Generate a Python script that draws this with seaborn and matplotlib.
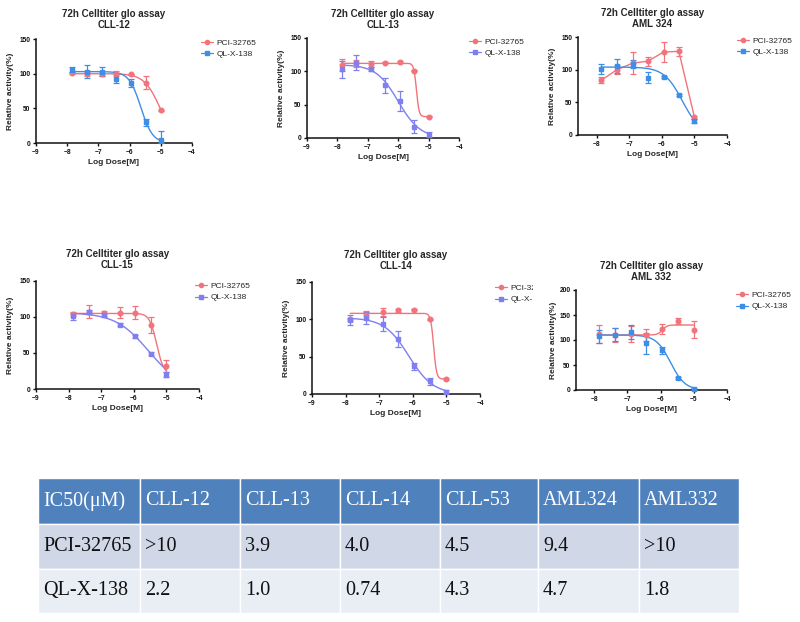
import numpy as np
import pandas as pd
import matplotlib
matplotlib.use("Agg")
import matplotlib.pyplot as plt
import seaborn as sns
from matplotlib.lines import Line2D
from matplotlib.patches import Rectangle

# ---------------- data ----------------
log_dose = [-7.86, -7.38, -6.90, -6.43, -5.95, -5.48, -5.00]
series_names = ["PCI-32765", "QL-X-138"]
title_main = "72h Celltiter glo assay"
panel_names = ["CLL-12", "CLL-13", "AML 324", "CLL-15", "CLL-14", "AML 332"]

# mean / SD (%) per series; fit = [left plateau, right plateau, logEC50, hill]
cll12_pci_mean = [101, 100, 100, 100, 99, 87, 47]
cll12_pci_sd = [2, 3, 3, 4, 1, 9, 1]
cll12_pci_fit = [100, 0, -5.02, 1.7]
cll12_ql_mean = [106, 103, 103, 93, 87, 30, 5]
cll12_ql_sd = [4, 9, 7, 7, 6, 5, 12]
cll12_ql_fit = [103, 0, -5.64, 2.3]

cll13_pci_mean = [110, 112, 111, 113, 114, 101, 32]
cll13_pci_sd = [9, 5, 4, 1, 2, 1, 1]
cll13_pci_fit = [112, 32, -5.40, 10]
cll13_ql_mean = [103, 113, 104, 79, 55, 17, 5]
cll13_ql_sd = [13, 11, 3, 11, 15, 10, 4]
cll13_ql_fit = [110, 0, -6.0, 1.2]

aml324_pci_mean = [84, 100, 110, 113, 127, 128, 27]
aml324_pci_sd = [5, 7, 17, 7, 15, 7, 2]
aml324_pci_fit = None
aml324_ql_mean = [101, 106, 109, 88, 89, 61, 21]
aml324_ql_sd = [7, 11, 6, 9, 1, 2, 3]
aml324_ql_fit = [104, 0, -5.37, 1.54]

cll15_pci_mean = [104, 107, 105, 106, 106, 89, 32]
cll15_pci_sd = [3, 9, 3, 8, 9, 11, 8]
cll15_pci_fit = [105, 20, -5.30, 4]
cll15_ql_mean = [101, 107, 103, 89, 73, 49, 20]
cll15_ql_sd = [5, 3, 3, 2, 2, 2, 4]
cll15_ql_fit = [106, 0, -5.55, 0.86]

cll14_pci_mean = [100, 106, 110, 112, 113, 100, 20]
cll14_pci_sd = [2, 5, 5, 2, 1, 1, 1]
cll14_pci_fit = [108, 20, -5.38, 10]
cll14_ql_mean = [99, 102, 94, 74, 37, 17, 3]
cll14_ql_sd = [7, 8, 9, 11, 5, 5, 2]
cll14_ql_fit = [102, 0, -6.12, 1.2]

aml332_pci_mean = [112, 110, 113, 110, 123, 139, 121]
aml332_pci_sd = [18, 14, 16, 12, 10, 6, 17]
aml332_pci_fit = [110, 130, -5.95, 6]
aml332_ql_mean = [108, 111, 117, 94, 80, 25, 3]
aml332_ql_sd = [13, 13, 14, 21, 7, 2, 2]
aml332_ql_fit = [110, 0, -5.70, 2.0]

table_header = ["IC50(\u03bcM)", "CLL-12", "CLL-13", "CLL-14", "CLL-53", "AML324", "AML332"]
table_pci = ["PCI-32765", ">10", "3.9", "4.0", "4.5", "9.4", ">10"]
table_ql = ["QL-X-138", "2.2", "1.0", "0.74", "4.3", "4.7", "1.8"]

panels = [
    (cll12_pci_mean, cll12_pci_sd, cll12_pci_fit, cll12_ql_mean, cll12_ql_sd, cll12_ql_fit),
    (cll13_pci_mean, cll13_pci_sd, cll13_pci_fit, cll13_ql_mean, cll13_ql_sd, cll13_ql_fit),
    (aml324_pci_mean, aml324_pci_sd, aml324_pci_fit, aml324_ql_mean, aml324_ql_sd, aml324_ql_fit),
    (cll15_pci_mean, cll15_pci_sd, cll15_pci_fit, cll15_ql_mean, cll15_ql_sd, cll15_ql_fit),
    (cll14_pci_mean, cll14_pci_sd, cll14_pci_fit, cll14_ql_mean, cll14_ql_sd, cll14_ql_fit),
    (aml332_pci_mean, aml332_pci_sd, aml332_pci_fit, aml332_ql_mean, aml332_ql_sd, aml332_ql_fit),
]

# ---------------- style / layout ----------------
sns.set_theme(style="ticks")
plt.rcParams["font.family"] = ["Liberation Sans", "DejaVu Sans"]

W, H = 800, 622
fig = plt.figure(figsize=(W / 100, H / 100), dpi=100)
fig.patch.set_facecolor("white")

RED = "#F2737B"
BLUE = "#3D8EE6"
PURPLE = "#7F7FF0"
second_colors = [BLUE, PURPLE, BLUE, PURPLE, PURPLE, BLUE]

axes_px = [(36, 39, 192, 143), (307, 38, 459, 138), (578, 37, 727, 135),
           (36, 281, 199, 389), (312, 282, 480, 394), (576, 290, 727, 390)]
xlims = [(-9, -4), (-9, -4), (-8.58, -4), (-9, -4), (-9, -4), (-8.55, -4)]
xticks = [range(-9, -3), range(-9, -3), range(-8, -3), range(-9, -3), range(-9, -3), range(-8, -3)]
ymax = [150, 150, 150, 150, 150, 200]
title_pads = [8, 7, 7, 9.5, 9.5, 7.2]
ylabel_pads = [4, 4, 4, 4, 4, 2]
legend_px = [(217, 45), (485, 44), (753, 43), (211, 288), (511, 290), (752, 297)]


def px_axes(l, t, r, b):
    return fig.add_axes([l / W, 1 - b / H, (r - l) / W, (b - t) / H])


def curve(x, p):
    left, right, c, h = p
    return right + (left - right) / (1 + 10 ** ((x - c) * h))


for i, (pm, ps, pf, qm, qs, qf) in enumerate(panels):
    ax = px_axes(*axes_px[i])
    ax.set_facecolor("white")
    if i == 5:
        ax.set_zorder(20)
    col2 = second_colors[i]
    xs = np.linspace(log_dose[0], log_dose[-1], 300)
    for mean, sd, fit, color, marker in [(pm, ps, pf, RED, "o"), (qm, qs, qf, col2, "s")]:
        mean = np.array(mean, float)
        sd = np.array(sd, float)
        if fit is None:
            df = pd.DataFrame({"x": log_dose, "y": mean})
        else:
            df = pd.DataFrame({"x": xs, "y": curve(xs, fit)})
        sns.lineplot(data=df, x="x", y="y", ax=ax, color=color, lw=1.0, sort=False)
        ax.errorbar(log_dose, mean, yerr=[np.minimum(sd, mean), sd], fmt=marker,
                    ms=3.3 if marker == "o" else 3.0, color=color, mec=color,
                    elinewidth=0.9, capsize=2.3, capthick=0.9, clip_on=False, zorder=3)
    ax.set_xlim(*xlims[i])
    ax.set_ylim(0, ymax[i])
    ax.set_xticks(list(xticks[i]))
    ax.set_yticks(list(range(0, ymax[i] + 1, 50)))
    sns.despine(ax=ax)
    for s in ["left", "bottom"]:
        ax.spines[s].set_linewidth(1.1)
        ax.spines[s].set_color("#111111")
    ax.tick_params(axis="both", length=2.5, width=1.0, pad=1.5, labelsize=4.8, colors="#111111")
    for lab in ax.get_xticklabels() + ax.get_yticklabels():
        lab.set_fontweight("bold")
    ax.set_xlabel("Log Dose[M]", fontsize=6, fontweight="bold", labelpad=2.5)
    ax.set_ylabel("Relative activity(%)", fontsize=6, fontweight="bold", labelpad=ylabel_pads[i])
    ax.set_title(title_main + "\n" + panel_names[i], fontsize=7, fontweight="bold",
                 pad=title_pads[i], linespacing=1.15)

    handles = [Line2D([], [], color=RED, marker="o", ms=3, lw=0.9),
               Line2D([], [], color=col2, marker="s", ms=2.8, lw=0.9)]
    tx, ty = legend_px[i]
    fig.legend(handles, series_names, loc="upper left",
               bbox_to_anchor=((tx - 16) / W, 1 - (ty - 6) / H),
               bbox_transform=fig.transFigure, frameon=False, fontsize=6,
               handlelength=1.4, handletextpad=0.5, labelspacing=0.45,
               borderpad=0, borderaxespad=0)

# cover the truncated legend of the CLL-14 panel (the AML 332 panel sits over it in the reference)
fig.patches.append(Rectangle((533 / W, 1 - 312 / H), 30 / W, 32 / H,
                             transform=fig.transFigure, facecolor="white",
                             edgecolor="none", zorder=10))

# ---------------- table ----------------
tab_l, tab_t, tab_r, tab_b = 38, 478, 739, 613
tax = px_axes(tab_l, tab_t, tab_r, tab_b)
tax.set_xlim(tab_l, tab_r)
tax.set_ylim(tab_b, tab_t)
tax.axis("off")
col_edges = [38, 140, 240, 340, 440, 538, 639, 739]
row_edges = [478, 524, 569, 613]
row_colors = ["#4F81BD", "#D0D8E8", "#E9EDF4"]
text_colors = ["white", "#111111", "#111111"]
rows = [table_header, table_pci, table_ql]
for r, row in enumerate(rows):
    for c, txt in enumerate(row):
        x0, x1 = col_edges[c], col_edges[c + 1]
        y0, y1 = row_edges[r], row_edges[r + 1]
        tax.add_patch(Rectangle((x0, y0), x1 - x0, y1 - y0, facecolor=row_colors[r],
                                edgecolor="white", lw=1.0))
        tax.text(x0 + 5, (y0 + y1) / 2, txt, ha="left", va="center",
                 fontsize=14.5, color=text_colors[r],
                 family=["Liberation Serif", "DejaVu Serif"])

fig.savefig("out.png", dpi=100, facecolor="white")
